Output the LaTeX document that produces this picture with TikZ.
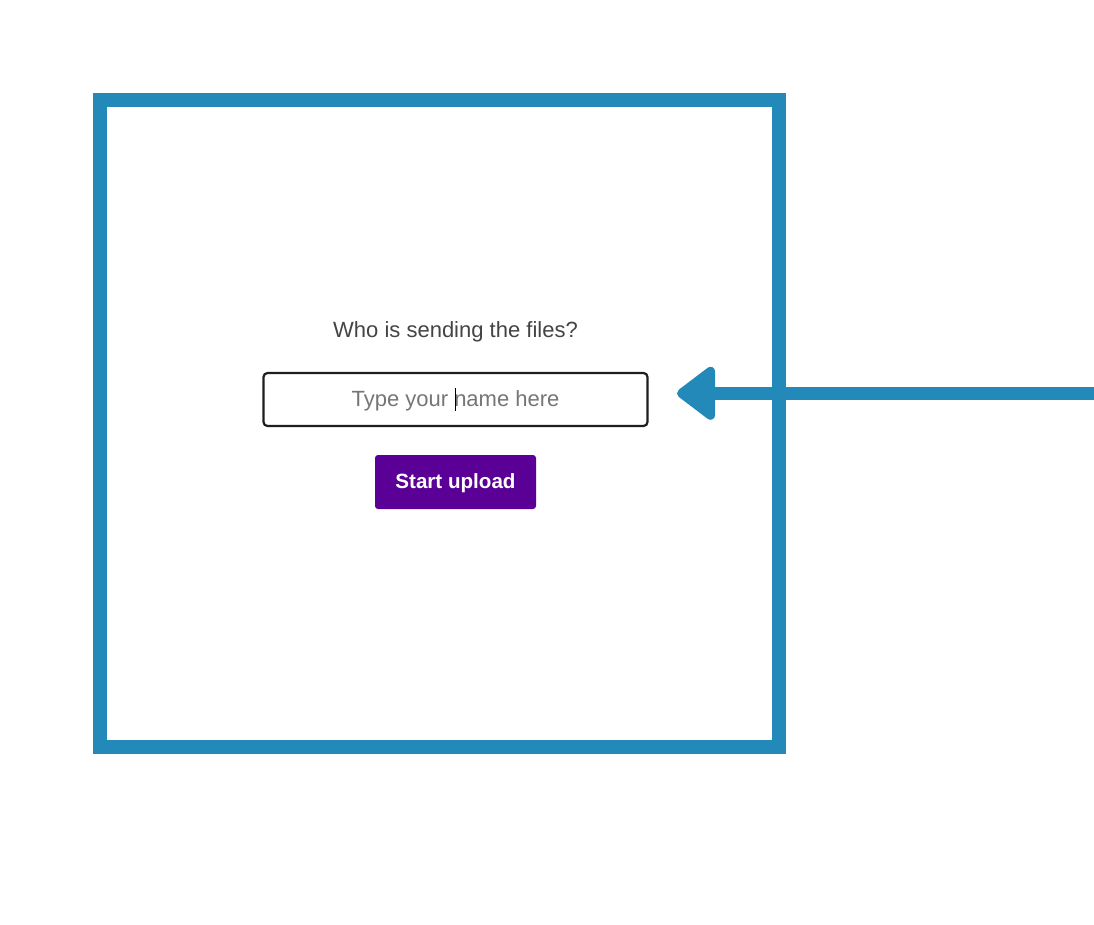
\documentclass[tikz,border=0pt]{standalone}
\usepackage{fontspec}
\setmainfont{Liberation Sans}
\definecolor{frameblue}{HTML}{2289B9}
\definecolor{btnpurple}{HTML}{5B0096}
\definecolor{qgray}{HTML}{444444}
\definecolor{phgray}{HTML}{767676}
\definecolor{fieldborder}{HTML}{1E1E1E}
\tikzset{
  framebox/.style={draw=frameblue, line width=14pt, minimum width=679.8pt, minimum height=647.5pt, inner sep=0pt},
  fieldbox/.style={draw=fieldborder, line width=2.2pt, rounded corners=4pt, minimum width=384pt, minimum height=53pt, inner sep=0pt},
  btnbox/.style={fill=btnpurple, rounded corners=3pt, minimum width=161pt, minimum height=54pt, inner sep=0pt},
  btntext/.style={text=white, inner sep=0pt, font=\fontsize{20.6}{24}\selectfont\bfseries},
  qtext/.style={text=qgray, font=\fontsize{22}{26}\selectfont, inner sep=0pt},
  phtext/.style={text=phgray, font=\fontsize{22}{26}\selectfont, inner sep=0pt},
  arrowline/.style={draw=frameblue, line width=13.5pt},
  arrowhead/.style={fill=frameblue, draw=frameblue, line width=9pt, line join=round},
  cursor/.style={draw=black, line width=1.2pt}
}
\begin{document}
\begin{tikzpicture}[x=1pt, y=-1pt]
\useasboundingbox (0,0) rectangle (1094,924);
\fill[white] (0,0) rectangle (1094,924);
\node[framebox] (frame) at (439.4,423.25) {};
\node[qtext] (question) at (455.5,332) {Who is sending the files?};
\node[fieldbox] (field) at (455.5,399.5) {};
\node[phtext] (placeholder) at (455.5,401) {Type your name here};
\coordinate (curtop) at (455.8,388);
\coordinate (curbot) at (455.8,411);
\draw[cursor] (curtop) -- (curbot);
\node[btnbox] (button) at (455.5,482) {};
\node[btntext] (btnlabel) at (455.5,483.5) {Start upload};
\coordinate (astart) at (1094,393.3);
\coordinate (atip) at (681.5,393.3);
\draw[arrowline] (astart) -- ([xshift=30pt]atip);
\filldraw[arrowhead] (atip) -- ++(29,-22) -- ++(0,44) -- cycle;
\end{tikzpicture}
\end{document}
